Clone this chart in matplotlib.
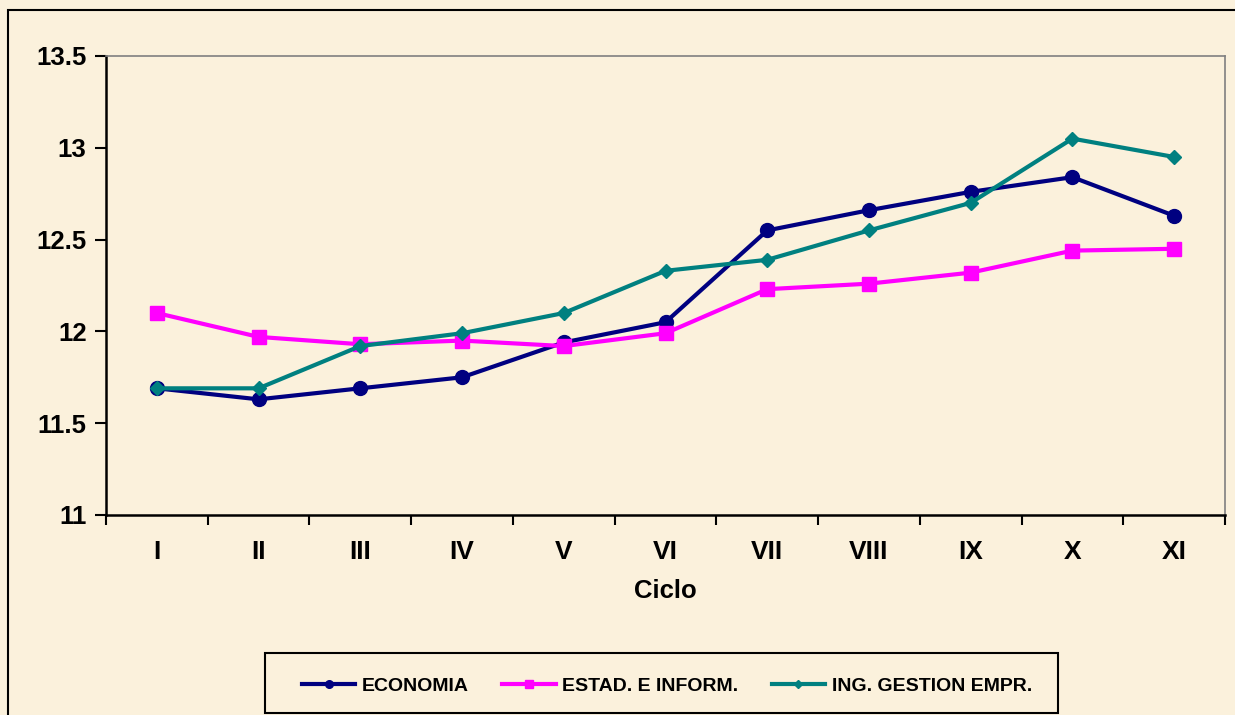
import matplotlib.pyplot as plt
from matplotlib.patches import Rectangle

ciclos = ['I', 'II', 'III', 'IV', 'V', 'VI', 'VII', 'VIII', 'IX', 'X', 'XI']
economia = [11.69, 11.63, 11.69, 11.75, 11.94, 12.05, 12.55, 12.66, 12.76, 12.84, 12.63]
estad_inform = [12.10, 11.97, 11.93, 11.95, 11.92, 11.99, 12.23, 12.26, 12.32, 12.44, 12.45]
ing_gestion = [11.69, 11.69, 11.92, 11.99, 12.10, 12.33, 12.39, 12.55, 12.70, 13.05, 12.95]
yticks = [11, 11.5, 12, 12.5, 13, 13.5]
ytick_labels = ['11', '11.5', '12', '12.5', '13', '13.5']

bg = '#FBF1DC'
plt.rcParams['font.family'] = ['Liberation Sans', 'DejaVu Sans']
plt.rcParams['font.weight'] = 'bold'

fig = plt.figure(figsize=(12.35, 7.15), dpi=100, facecolor=bg)
# outer chart border
fig.patches.append(Rectangle((8/1235, -0.01), 1.0, (715-10)/715 + 0.01, transform=fig.transFigure,
                             fill=False, edgecolor='black', linewidth=1.5))
# legend box
fig.patches.append(Rectangle((265/1235, 2/715), 793/1235, 60/715, transform=fig.transFigure,
                             fill=False, edgecolor='black', linewidth=1.5))

ax = fig.add_axes([106/1235, 200/715, 1119/1235, 459/715])
ax.set_facecolor(bg)
x = list(range(len(ciclos)))

ax.plot(x, economia, color='#000080', lw=3, marker='o', ms=10, label='ECONOMIA')
ax.plot(x, estad_inform, color='#FF00FF', lw=3, marker='s', ms=10, label='ESTAD. E INFORM.')
ax.plot(x, ing_gestion, color='#008080', lw=3, marker='D', ms=7.5, label='ING. GESTION EMPR.')

ax.set_xlim(-0.5, len(ciclos) - 0.5)
ax.set_ylim(11, 13.5)
ax.set_yticks(yticks)
ax.set_yticklabels(ytick_labels, fontsize=18.5, fontweight='bold')
ax.set_xticks(x)
ax.set_xticklabels(ciclos, fontsize=19, fontweight='bold')
ax.tick_params(axis='x', length=0, pad=18)
ax.set_xticks([i - 0.5 for i in range(len(ciclos) + 1)], minor=True)
ax.tick_params(axis='x', which='minor', length=7, width=1.5, direction='out')
ax.tick_params(axis='y', length=8, width=1.5, direction='out', pad=6)
ax.set_xlabel('Ciclo', fontsize=18.5, fontweight='bold', labelpad=11)

for s in ['left', 'bottom']:
    ax.spines[s].set_color('black')
    ax.spines[s].set_linewidth(1.8)
for s in ['top', 'right']:
    ax.spines[s].set_color('#808080')
    ax.spines[s].set_linewidth(1.2)

leg = fig.legend(loc='center', bbox_to_anchor=(667/1235, 29/715),
                 ncol=3, frameon=False, handlelength=2.75, handletextpad=0.35,
                 columnspacing=1.7, markerscale=0.55,
                 prop={'weight': 'bold', 'size': 14})

fig.savefig('out.png', dpi=100, facecolor=bg)
